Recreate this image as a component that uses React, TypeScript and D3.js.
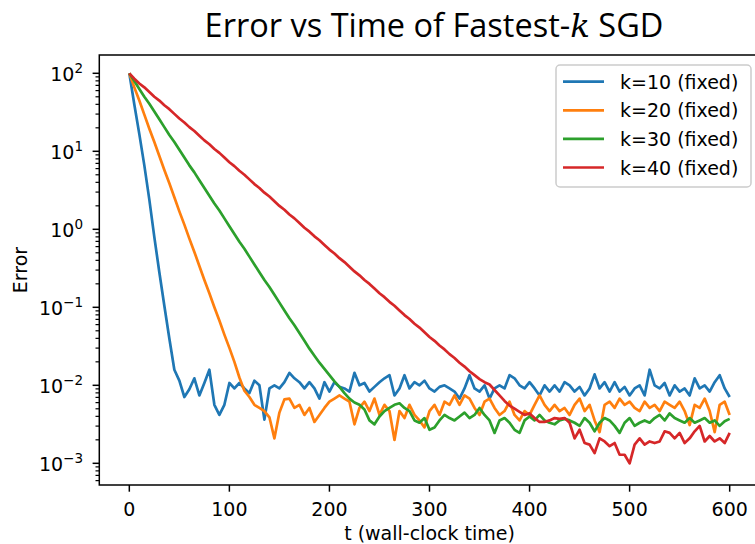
import React from "react";
import * as d3 from "d3";

const width = 755;
const height = 544;
const plotLeft = 99.3;
const plotRight = 759.7;
const plotTop = 55;
const plotBottom = 485;

// sampling grid of the runs (wall-clock time)
const times = d3.range(0, 601, 5);

// log10(error), one value per 5 time units
const k10Log = [
  2.0, 1.6, 1.22, 0.82, 0.38, -0.1, -0.55, -0.98, -1.4, -1.8,
  -1.94, -2.15, -2.05, -1.91, -2.13, -1.97, -1.8, -2.25, -2.38, -2.25,
  -1.97, -2.04, -1.97, -2.04, -2.1, -1.94, -2.0, -2.44, -2.04, -2.0,
  -2.04, -1.96, -1.84, -1.91, -1.96, -2.04, -1.96, -2.04, -2.17, -1.96,
  -2.08, -1.96, -2.02, -2.04, -2.08, -1.84, -2.0, -1.97, -2.08, -2.02,
  -1.96, -1.91, -1.87, -2.13, -2.04, -1.87, -2.04, -1.96, -2.0, -1.94,
  -2.04, -2.08, -2.02, -2.0, -2.04, -2.08, -2.17, -2.04, -1.87, -2.04,
  -2.08, -2.0, -2.17, -2.04, -2.0, -2.04, -1.87, -1.91, -2.0, -2.04,
  -1.96, -2.04, -2.13, -2.0, -2.08, -2.0, -2.08, -1.96, -2.0, -2.08,
  -2.02, -2.13, -2.04, -1.86, -2.04, -1.96, -2.08, -1.96, -2.08, -2.02,
  -2.13, -2.04, -2.0, -2.13, -1.8, -2.0, -2.04, -1.97, -2.13, -2.0,
  -2.08, -2.04, -2.13, -1.91, -2.04, -2.0, -2.08, -1.96, -1.87, -2.04,
  -2.15,
];
const k20Log = [
  2.0, 1.82, 1.65, 1.47, 1.29, 1.12, 0.94, 0.76, 0.59, 0.41,
  0.23, 0.06, -0.12, -0.29, -0.47, -0.65, -0.82, -1.0, -1.17, -1.35,
  -1.52, -1.7, -1.9, -2.07, -2.15, -2.25, -2.29, -2.33, -2.41, -2.68,
  -2.35, -2.18, -2.17, -2.29, -2.25, -2.38, -2.29, -2.47, -2.38, -2.29,
  -2.21, -2.17, -2.13, -2.17, -2.21, -2.5, -2.29, -2.21, -2.33, -2.17,
  -2.38, -2.25, -2.33, -2.7, -2.33, -2.42, -2.25, -2.38, -2.45, -2.54,
  -2.33, -2.25, -2.38, -2.21, -2.25, -2.13, -2.25, -2.13, -2.17, -2.29,
  -2.38, -2.21, -2.17, -2.29, -2.38, -2.33, -2.21, -2.38, -2.45, -2.33,
  -2.38, -2.25, -2.13, -2.25, -2.33, -2.25, -2.33, -2.29, -2.38, -2.25,
  -2.17, -2.33, -2.25, -2.45, -2.6, -2.25, -2.21, -2.29, -2.17, -2.25,
  -2.21, -2.29, -2.33, -2.21, -2.29, -2.25, -2.33, -2.21, -2.25, -2.29,
  -2.21, -2.33, -2.51, -2.25, -2.29, -2.17, -2.33, -2.6, -2.25, -2.21,
  -2.38,
];
const k30Log = [
  2.0, 1.9, 1.8, 1.7, 1.61, 1.51, 1.41, 1.31, 1.21, 1.12,
  1.02, 0.92, 0.82, 0.73, 0.63, 0.53, 0.43, 0.33, 0.24, 0.14,
  0.04, -0.06, -0.16, -0.25, -0.35, -0.45, -0.55, -0.65, -0.74, -0.84,
  -0.94, -1.04, -1.14, -1.23, -1.33, -1.43, -1.53, -1.62, -1.71, -1.79,
  -1.87, -1.95, -2.02, -2.1, -2.17, -2.22, -2.25, -2.31, -2.45, -2.5,
  -2.4, -2.33, -2.29, -2.25, -2.23, -2.29, -2.33, -2.45, -2.48, -2.42,
  -2.57, -2.54, -2.45, -2.38, -2.42, -2.45, -2.4, -2.35, -2.42, -2.38,
  -2.29, -2.38, -2.45, -2.61, -2.45, -2.42, -2.48, -2.57, -2.61, -2.45,
  -2.4, -2.45, -2.38, -2.45, -2.48, -2.5, -2.45, -2.43, -2.45, -2.48,
  -2.52, -2.42, -2.48, -2.59, -2.48, -2.42, -2.45, -2.52, -2.61, -2.48,
  -2.42, -2.52, -2.48, -2.45, -2.48, -2.42, -2.38, -2.45, -2.36, -2.42,
  -2.45, -2.48, -2.42, -2.48, -2.45, -2.42, -2.48, -2.45, -2.52, -2.46,
  -2.43,
];
const k40Log = [
  2.0, 1.93, 1.87, 1.82, 1.76, 1.7, 1.65, 1.59, 1.54, 1.48,
  1.42, 1.37, 1.31, 1.26, 1.2, 1.14, 1.09, 1.03, 0.98, 0.92,
  0.86, 0.81, 0.75, 0.7, 0.64, 0.58, 0.53, 0.47, 0.42, 0.36,
  0.3, 0.25, 0.19, 0.14, 0.08, 0.02, -0.03, -0.09, -0.14, -0.2,
  -0.26, -0.31, -0.37, -0.42, -0.48, -0.54, -0.59, -0.65, -0.7, -0.76,
  -0.82, -0.87, -0.93, -0.98, -1.04, -1.1, -1.15, -1.21, -1.26, -1.32,
  -1.38, -1.43, -1.49, -1.54, -1.6, -1.65, -1.71, -1.76, -1.82, -1.87,
  -1.92, -1.96, -1.99, -2.06, -2.13, -2.2, -2.26, -2.3, -2.34, -2.38,
  -2.36, -2.42, -2.47, -2.47, -2.45, -2.42, -2.43, -2.42, -2.48, -2.68,
  -2.57, -2.74, -2.76, -2.87, -2.68, -2.72, -2.78, -2.74, -2.89, -2.89,
  -3.0, -2.76, -2.68, -2.76, -2.72, -2.74, -2.72, -2.59, -2.61, -2.68,
  -2.61, -2.74, -2.68, -2.59, -2.52, -2.72, -2.65, -2.72, -2.68, -2.74,
  -2.61,
];

const seriesLabels = ["k=10 (fixed)", "k=20 (fixed)", "k=30 (fixed)", "k=40 (fixed)"];
const seriesValues = [k10Log, k20Log, k30Log, k40Log];
const colors = ["#1f77b4", "#ff7f0e", "#2ca02c", "#d62728"];

const xTicks = [0, 100, 200, 300, 400, 500, 600];
const yExponents = [-3, -2, -1, 0, 1, 2];

const x = d3.scaleLinear().domain([-30, 630]).range([plotLeft, plotRight]);
const y = d3
  .scaleLog()
  .domain([10 ** -3.278, 10 ** 2.2346])
  .range([plotBottom, plotTop]);

const line = d3
  .line<[number, number]>()
  .x((d) => x(d[0]))
  .y((d) => y(10 ** d[1]));

const minorTicks: number[] = [];
for (let e = -4; e <= 2; e++) {
  for (let m = 2; m <= 9; m++) {
    const v = m * 10 ** e;
    if (v > y.domain()[0] && v < y.domain()[1]) minorTicks.push(v);
  }
}

const font = "DejaVu Sans";

const App = () => {
  return (
    <svg
      width={width}
      height={height}
      style={{ position: "absolute", left: 0, top: 0, background: "white" }}
    >
      <defs>
        <clipPath id="plot-clip">
          <rect
            x={plotLeft}
            y={plotTop}
            width={plotRight - plotLeft}
            height={plotBottom - plotTop}
          />
        </clipPath>
      </defs>

      <text
        x={434}
        y={37}
        textAnchor="middle"
        fontFamily="Open Sans"
        fontSize={32.5}
        fill="#000"
      >
        Error vs Time of Fastest-
        <tspan fontFamily="DejaVu Serif" fontStyle="italic">
          k
        </tspan>{" "}
        SGD
      </text>

      <g clipPath="url(#plot-clip)">
        {seriesValues.map((vals, i) => (
          <path
            key={seriesLabels[i]}
            d={line(times.map((t, j) => [t, vals[j]] as [number, number])) || ""}
            fill="none"
            stroke={colors[i]}
            strokeWidth={2.7}
            strokeLinejoin="round"
          />
        ))}
      </g>

      <rect
        x={plotLeft}
        y={plotTop}
        width={plotRight - plotLeft}
        height={plotBottom - plotTop}
        fill="none"
        stroke="#000"
        strokeWidth={1.5}
      />

      {xTicks.map((t) => (
        <g key={t}>
          <line
            x1={x(t)}
            x2={x(t)}
            y1={plotBottom}
            y2={plotBottom + 6.7}
            stroke="#000"
            strokeWidth={1.5}
          />
          <text
            x={x(t)}
            y={516}
            textAnchor="middle"
            fontFamily={font}
            fontSize={19}
          >
            {t}
          </text>
        </g>
      ))}

      {minorTicks.map((v) => (
        <line
          key={v}
          x1={plotLeft - 3.8}
          x2={plotLeft}
          y1={y(v)}
          y2={y(v)}
          stroke="#000"
          strokeWidth={1.2}
        />
      ))}

      {yExponents.map((e) => (
        <g key={e}>
          <line
            x1={plotLeft - 6.7}
            x2={plotLeft}
            y1={y(10 ** e)}
            y2={y(10 ** e)}
            stroke="#000"
            strokeWidth={1.5}
          />
          <text
            x={83}
            y={y(10 ** e) + 7.3}
            textAnchor="end"
            fontFamily={font}
            fontSize={19}
          >
            10
            <tspan dy={-8} fontSize={13.5}>
              {e < 0 ? `\u2212${-e}` : `${e}`}
            </tspan>
          </text>
        </g>
      ))}

      <text
        x={(plotLeft + plotRight) / 2}
        y={540}
        textAnchor="middle"
        fontFamily={font}
        fontSize={19}
      >
        t (wall-clock time)
      </text>
      <text
        transform={`translate(27, ${(plotTop + plotBottom) / 2}) rotate(-90)`}
        textAnchor="middle"
        fontFamily={font}
        fontSize={19}
      >
        Error
      </text>

      <g>
        <rect
          x={556}
          y={65}
          width={195}
          height={122}
          rx={4}
          fill="white"
          fillOpacity={0.8}
          stroke="#cccccc"
          strokeWidth={1.5}
        />
        {seriesLabels.map((label, i) => {
          const ly = 81.7 + i * 28.6;
          return (
            <g key={label}>
              <line
                x1={563}
                x2={604}
                y1={ly}
                y2={ly}
                stroke={colors[i]}
                strokeWidth={2.7}
              />
              <text x={620} y={ly + 7} fontFamily={font} fontSize={19}>
                {label}
              </text>
            </g>
          );
        })}
      </g>
    </svg>
  );
};

export default App;
